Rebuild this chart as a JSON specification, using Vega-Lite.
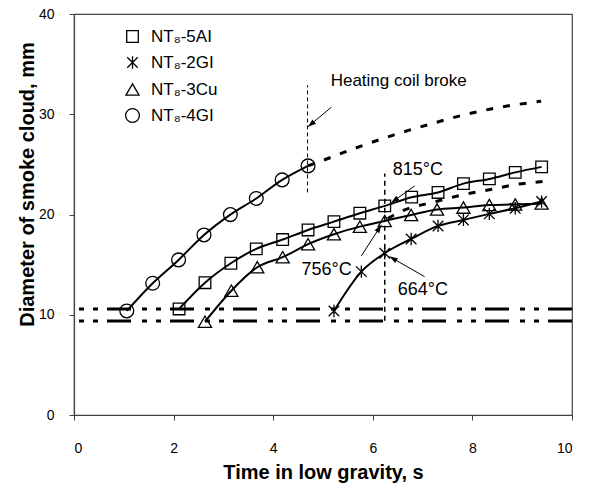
{
  "$schema": "https://vega.github.io/schema/vega-lite/v6.json",
  "width": 498,
  "height": 401,
  "autosize": {"type": "none"},
  "padding": {"left": 74, "top": 14, "right": 32, "bottom": 75},
  "background": "white",
  "config": {
    "view": {"stroke": "#444", "strokeWidth": 1.2},
    "font": "Liberation Sans",
    "axis": {
      "grid": false,
      "domainColor": "#444",
      "domainWidth": 1.2,
      "tickColor": "#444",
      "tickSize": 5,
      "labelFont": "Liberation Sans",
      "labelFontSize": 14,
      "labelColor": "black",
      "titleFont": "Liberation Sans",
      "titleFontSize": 20,
      "titleFontWeight": "bold",
      "titleColor": "black"
    },
    "legend": {
      "labelFont": "Liberation Sans",
      "labelFontSize": 17,
      "labelColor": "black"
    }
  },
  "datasets": {
    "pts": [
      {"series": "NT₈-4GI", "t": 1.06, "d": 10.38},
      {"series": "NT₈-4GI", "t": 1.58, "d": 13.14},
      {"series": "NT₈-4GI", "t": 2.10, "d": 15.47},
      {"series": "NT₈-4GI", "t": 2.61, "d": 17.96},
      {"series": "NT₈-4GI", "t": 3.14, "d": 19.99},
      {"series": "NT₈-4GI", "t": 3.66, "d": 21.6},
      {"series": "NT₈-4GI", "t": 4.18, "d": 23.45},
      {"series": "NT₈-4GI", "t": 4.70, "d": 24.85},
      {"series": "NT₈-5AI", "t": 2.11, "d": 10.58},
      {"series": "NT₈-5AI", "t": 2.63, "d": 13.2},
      {"series": "NT₈-5AI", "t": 3.15, "d": 15.14},
      {"series": "NT₈-5AI", "t": 3.66, "d": 16.57},
      {"series": "NT₈-5AI", "t": 4.19, "d": 17.5},
      {"series": "NT₈-5AI", "t": 4.70, "d": 18.46},
      {"series": "NT₈-5AI", "t": 5.22, "d": 19.29},
      {"series": "NT₈-5AI", "t": 5.74, "d": 20.13},
      {"series": "NT₈-5AI", "t": 6.24, "d": 20.86},
      {"series": "NT₈-5AI", "t": 6.78, "d": 21.73},
      {"series": "NT₈-5AI", "t": 7.31, "d": 22.2},
      {"series": "NT₈-5AI", "t": 7.82, "d": 23.08},
      {"series": "NT₈-5AI", "t": 8.34, "d": 23.55},
      {"series": "NT₈-5AI", "t": 8.86, "d": 24.2},
      {"series": "NT₈-5AI", "t": 9.39, "d": 24.75},
      {"series": "NT₈-3Cu", "t": 2.63, "d": 9.31},
      {"series": "NT₈-3Cu", "t": 3.16, "d": 12.4},
      {"series": "NT₈-3Cu", "t": 3.68, "d": 14.74},
      {"series": "NT₈-3Cu", "t": 4.19, "d": 15.74},
      {"series": "NT₈-3Cu", "t": 4.70, "d": 17.04},
      {"series": "NT₈-3Cu", "t": 5.22, "d": 18.03},
      {"series": "NT₈-3Cu", "t": 5.74, "d": 18.79},
      {"series": "NT₈-3Cu", "t": 6.24, "d": 19.36},
      {"series": "NT₈-3Cu", "t": 6.77, "d": 19.96},
      {"series": "NT₈-3Cu", "t": 7.29, "d": 20.5},
      {"series": "NT₈-3Cu", "t": 7.82, "d": 20.69},
      {"series": "NT₈-3Cu", "t": 8.34, "d": 20.95},
      {"series": "NT₈-3Cu", "t": 8.86, "d": 21.0},
      {"series": "NT₈-3Cu", "t": 9.39, "d": 21.1},
      {"series": "NT₈-2GI", "t": 5.22, "d": 10.38},
      {"series": "NT₈-2GI", "t": 5.77, "d": 14.3},
      {"series": "NT₈-2GI", "t": 6.24, "d": 16.14},
      {"series": "NT₈-2GI", "t": 6.77, "d": 17.56},
      {"series": "NT₈-2GI", "t": 7.31, "d": 18.86},
      {"series": "NT₈-2GI", "t": 7.82, "d": 19.46},
      {"series": "NT₈-2GI", "t": 8.34, "d": 20.06},
      {"series": "NT₈-2GI", "t": 8.86, "d": 20.63},
      {"series": "NT₈-2GI", "t": 9.39, "d": 21.29}
    ],
    "ext": [
      {"line": "upper", "t": 4.70, "d": 24.85},
      {"line": "upper", "t": 5.0, "d": 25.4},
      {"line": "upper", "t": 5.64, "d": 26.6},
      {"line": "upper", "t": 6.4, "d": 27.9},
      {"line": "upper", "t": 7.21, "d": 29.1},
      {"line": "upper", "t": 7.8, "d": 29.9},
      {"line": "upper", "t": 8.34, "d": 30.5},
      {"line": "upper", "t": 9.38, "d": 31.3},
      {"line": "lower", "t": 6.3, "d": 19.6},
      {"line": "lower", "t": 6.54, "d": 20.25},
      {"line": "lower", "t": 7.27, "d": 21.29},
      {"line": "lower", "t": 7.8, "d": 21.96},
      {"line": "lower", "t": 8.34, "d": 22.46},
      {"line": "lower", "t": 8.88, "d": 23.0},
      {"line": "lower", "t": 9.45, "d": 23.3}
    ],
    "arrows": [
      {"id": "coil", "t": 5.168, "d": 30.70},
      {"id": "coil", "t": 4.699, "d": 28.76},
      {"id": "a815", "t": 6.84, "d": 22.85},
      {"id": "a815", "t": 6.372, "d": 21.19},
      {"id": "a756", "t": 5.77, "d": 15.87},
      {"id": "a756", "t": 6.171, "d": 18.96},
      {"id": "a664", "t": 7.04, "d": 13.80},
      {"id": "a664", "t": 6.337, "d": 15.80}
    ],
    "notes": [
      {"label": "815°C", "t": 6.40, "d": 24.45},
      {"label": "756°C", "t": 4.57, "d": 14.47},
      {"label": "664°C", "t": 6.50, "d": 12.47}
    ]
  },
  "layer": [
    {
      "data": {"values": [{"level": 10.58}, {"level": 9.38}]},
      "mark": {"type": "rule", "color": "black", "strokeWidth": 3, "strokeDash": [24, 9, 5, 9, 5, 11]},
      "encoding": {
        "y": {"field": "level", "type": "quantitative", "scale": {"domain": [0, 40], "nice": false}}
      }
    },
    {
      "data": {"values": [{"t": 6.24, "d1": 9.4, "d2": 24.1}]},
      "mark": {"type": "rule", "color": "black", "strokeWidth": 1.5, "strokeDash": [5, 4]},
      "encoding": {
        "x": {"field": "t", "type": "quantitative"},
        "y": {"field": "d1", "type": "quantitative"},
        "y2": {"field": "d2"}
      }
    },
    {
      "data": {"values": [{"t": 4.69, "d1": 22.2, "d2": 32.9}]},
      "mark": {"type": "rule", "color": "black", "strokeWidth": 1, "strokeDash": [4, 3]},
      "encoding": {
        "x": {"field": "t", "type": "quantitative"},
        "y": {"field": "d1", "type": "quantitative"},
        "y2": {"field": "d2"}
      }
    },
    {
      "data": {"name": "ext"},
      "mark": {"type": "line", "color": "black", "strokeWidth": 3, "strokeDash": [7, 10], "interpolate": "monotone"},
      "encoding": {
        "x": {"field": "t", "type": "quantitative"},
        "y": {"field": "d", "type": "quantitative"},
        "detail": {"field": "line"}
      }
    },
    {
      "data": {"name": "pts"},
      "mark": {"type": "line", "color": "black", "strokeWidth": 2, "interpolate": "monotone"},
      "encoding": {
        "x": {"field": "t", "type": "quantitative"},
        "y": {"field": "d", "type": "quantitative"},
        "detail": {"field": "series"}
      }
    },
    {
      "data": {"name": "pts"},
      "mark": {"type": "point", "filled": false, "color": "black", "strokeWidth": 1.3, "opacity": 1},
      "encoding": {
        "x": {"field": "t", "type": "quantitative", "scale": {"domain": [0, 10], "nice": false},
          "axis": {"values": [0, 2, 4, 6, 8, 10], "title": "Time in low gravity, s", "labelPadding": 21, "titleY": 57, "titleBaseline": "middle"}},
        "y": {"field": "d", "type": "quantitative",
          "axis": {"values": [0, 10, 20, 30, 40], "title": "Diameter of smoke cloud, mm", "labelPadding": 15, "titleX": -47, "titleY": 170, "titleAngle": -90, "titleBaseline": "middle", "titleAlign": "center"}},
        "shape": {
          "field": "series", "type": "nominal",
          "scale": {
            "domain": ["NT₈-5AI", "NT₈-2GI", "NT₈-3Cu", "NT₈-4GI"],
            "range": ["square", "M-0.85,-0.85L0.85,0.85M-0.85,0.85L0.85,-0.85M0,-1L0,1", "triangle-up", "circle"]
          },
          "legend": {"title": null, "orient": "none", "legendX": 50, "legendY": 14, "symbolStrokeColor": "black", "symbolStrokeWidth": 1.3, "rowPadding": 8, "labelOffset": 10}
        },
        "size": {
          "field": "series", "type": "nominal",
          "scale": {
            "domain": ["NT₈-5AI", "NT₈-2GI", "NT₈-3Cu", "NT₈-4GI"],
            "range": [135, 190, 125, 95]
          },
          "legend": {"title": null, "orient": "none", "legendX": 50, "legendY": 14, "symbolStrokeColor": "black", "symbolStrokeWidth": 1.3, "rowPadding": 8, "labelOffset": 10}
        }
      }
    },
    {
      "data": {"name": "arrows"},
      "mark": {"type": "line", "color": "black", "strokeWidth": 1},
      "encoding": {
        "x": {"field": "t", "type": "quantitative"},
        "y": {"field": "d", "type": "quantitative"},
        "detail": {"field": "id"}
      }
    },
    {
      "data": {"name": "arrows"},
      "transform": [{"filter": "datum.id === 'coil'"}, {"window": [{"op": "row_number", "as": "n"}]}, {"filter": "datum.n === 2"}],
      "mark": {"type": "point", "shape": "M0,0L-0.7,2L0.7,2Z", "filled": true, "color": "black", "size": 64, "angle": 230.4, "opacity": 1},
      "encoding": {"x": {"field": "t", "type": "quantitative"}, "y": {"field": "d", "type": "quantitative"}}
    },
    {
      "data": {"name": "arrows"},
      "transform": [{"filter": "datum.id === 'a815'"}, {"window": [{"op": "row_number", "as": "n"}]}, {"filter": "datum.n === 2"}],
      "mark": {"type": "point", "shape": "M0,0L-0.7,2L0.7,2Z", "filled": true, "color": "black", "size": 64, "angle": 234.4, "opacity": 1},
      "encoding": {"x": {"field": "t", "type": "quantitative"}, "y": {"field": "d", "type": "quantitative"}}
    },
    {
      "data": {"name": "arrows"},
      "transform": [{"filter": "datum.id === 'a756'"}, {"window": [{"op": "row_number", "as": "n"}]}, {"filter": "datum.n === 2"}],
      "mark": {"type": "point", "shape": "M0,0L-0.7,2L0.7,2Z", "filled": true, "color": "black", "size": 64, "angle": 32.8, "opacity": 1},
      "encoding": {"x": {"field": "t", "type": "quantitative"}, "y": {"field": "d", "type": "quantitative"}}
    },
    {
      "data": {"name": "arrows"},
      "transform": [{"filter": "datum.id === 'a664'"}, {"window": [{"op": "row_number", "as": "n"}]}, {"filter": "datum.n === 2"}],
      "mark": {"type": "point", "shape": "M0,0L-0.7,2L0.7,2Z", "filled": true, "color": "black", "size": 64, "angle": 299.7, "opacity": 1},
      "encoding": {"x": {"field": "t", "type": "quantitative"}, "y": {"field": "d", "type": "quantitative"}}
    },
    {
      "data": {"name": "notes"},
      "mark": {"type": "text", "align": "left", "baseline": "middle", "font": "Liberation Sans", "fontSize": 18, "color": "black"},
      "encoding": {
        "x": {"field": "t", "type": "quantitative"},
        "y": {"field": "d", "type": "quantitative"},
        "text": {"field": "label"}
      }
    },
    {
      "data": {"values": [{"label": "Heating coil broke", "t": 5.154, "d": 33.33}]},
      "mark": {"type": "text", "align": "left", "baseline": "middle", "font": "Liberation Sans", "fontSize": 17, "color": "black"},
      "encoding": {
        "x": {"field": "t", "type": "quantitative"},
        "y": {"field": "d", "type": "quantitative"},
        "text": {"field": "label"}
      }
    }
  ]
}
